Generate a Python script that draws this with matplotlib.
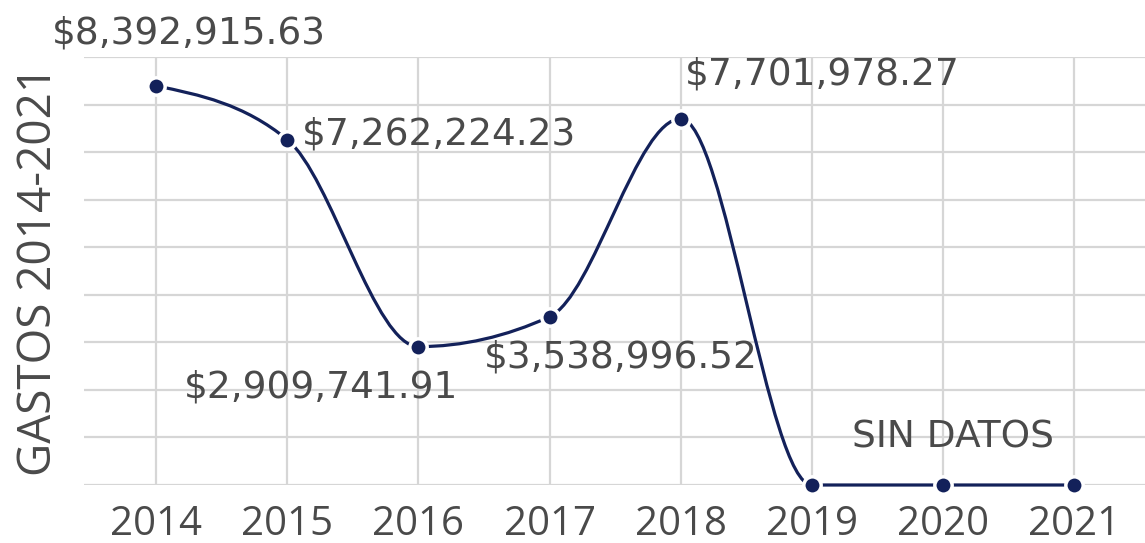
import numpy as np
import matplotlib.pyplot as plt
from matplotlib.path import Path
from matplotlib.patches import PathPatch

years = [2014, 2015, 2016, 2017, 2018, 2019, 2020, 2021]
gastos = [8392915.63, 7262224.23, 2909741.91, 3538996.52, 7701978.27, 0, 0, 0]
labels = ["$8,392,915.63", "$7,262,224.23", "$2,909,741.91",
          "$3,538,996.52", "$7,701,978.27"]
sin_datos = "SIN DATOS"

NAVY = "#13215a"
GRAY = "#4a4a4a"


def monotone_path(x, y):
    # monotone cubic (d3 curveMonotoneX style) as bezier segments
    x = np.asarray(x, float)
    y = np.asarray(y, float)
    n = len(x)
    h = np.diff(x)
    s = np.diff(y) / h
    t = np.zeros(n)
    for i in range(1, n - 1):
        p = (s[i - 1] * h[i] + s[i] * h[i - 1]) / (h[i - 1] + h[i])
        t[i] = (np.sign(s[i - 1]) + np.sign(s[i])) * min(abs(s[i - 1]), abs(s[i]), 0.5 * abs(p))
    t[0] = (3 * s[0] - t[1]) / 2
    t[-1] = (3 * s[-1] - t[-2]) / 2
    verts = [(x[0], y[0])]
    codes = [Path.MOVETO]
    for i in range(n - 1):
        dx = h[i] / 3
        verts += [(x[i] + dx, y[i] + dx * t[i]),
                  (x[i + 1] - dx, y[i + 1] - dx * t[i + 1]),
                  (x[i + 1], y[i + 1])]
        codes += [Path.CURVE4] * 3
    return Path(verts, codes)


fig = plt.figure(figsize=(11.45, 5.43), dpi=100)
ax = fig.add_axes([0.0734, 0.1068, 0.9266, 0.7882])

ax.add_patch(PathPatch(monotone_path(years, gastos), facecolor="none",
                       edgecolor=NAVY, lw=2.3, zorder=3, clip_on=False))
ax.plot(years, gastos, "o", color=NAVY, markersize=12.5, markeredgecolor="white",
        markeredgewidth=2.5, zorder=4, clip_on=False)

ax.set_xlim(2013.45, 2021.54)
ax.set_ylim(0, 9e6)
ax.set_xticks(years)
ax.set_yticks(np.arange(0, 9.5e6, 1e6))
ax.set_yticklabels([])
ax.grid(True, color="#d6d6d6", lw=1.6)
ax.set_axisbelow(True)
for sp in ax.spines.values():
    sp.set_visible(False)
ax.tick_params(length=0, pad=14, labelsize=29, labelcolor=GRAY)
for lab in ax.get_xticklabels():
    lab.set_fontfamily("Open Sans")

ax.set_ylabel("GASTOS 2014-2021", fontsize=33, color=GRAY, family="Open Sans",
              labelpad=2)

offsets = [(33, 52, "center"), (15, 5, "left"), (-97, -41, "center"),
           (71, -41, "center"), (142, 44, "center")]
for yr, val, txt, (dx, dy, ha) in zip(years, gastos, labels, offsets):
    ax.annotate(txt, (yr, val), xytext=(dx, dy), textcoords="offset pixels",
                ha=ha, va="center", fontsize=27, color=GRAY, family="DejaVu Sans",
                annotation_clip=False, zorder=5)
ax.annotate(sin_datos, (years[6], gastos[6]), xytext=(10, 48),
            textcoords="offset pixels", ha="center", va="center", fontsize=27,
            color=GRAY, family="DejaVu Sans")

fig.savefig("out.png", dpi=100)
